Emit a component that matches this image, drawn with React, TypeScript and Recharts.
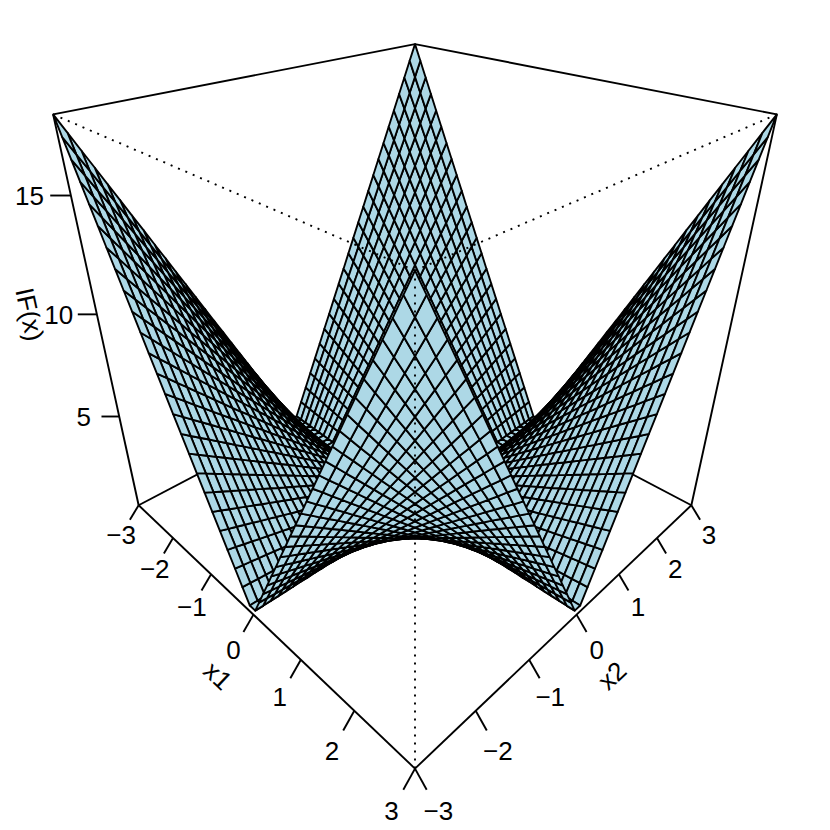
import React from 'react';
import { ScatterChart, Scatter, XAxis, YAxis } from 'recharts';

// Grid of the surface, from 0 outward; the negative half is its mirror image.
const gridHalf = [0.0612, 0.1837, 0.3061, 0.4286, 0.551, 0.6735, 0.7959, 0.9184, 1.0408, 1.1633, 1.2857, 1.4082, 1.5306, 1.6531, 1.7755, 1.898, 2.0204, 2.1429, 2.2653, 2.3878, 2.5102, 2.6327, 2.7551, 2.8776, 3];

// IF(x) read for one quadrant: a row per |x1|, a column per |x2|.
const surfaceQuadrant = [
  [.01,.02,.04,.05,.07,.08,.10,.11,.13,.14,.16,.17,.19,.20,.22,.23,.25,.26,.28,.29,.31,.32,.34,.35,.37],
  [.02,.07,.11,.16,.20,.25,.29,.34,.38,.43,.47,.52,.56,.61,.65,.70,.74,.79,.83,.88,.92,.97,1.01,1.06,1.10],
  [.04,.11,.19,.26,.34,.41,.49,.56,.64,.71,.79,.86,.94,1.01,1.09,1.16,1.24,1.31,1.39,1.46,1.54,1.61,1.69,1.76,1.84],
  [.05,.16,.26,.37,.47,.58,.68,.79,.89,1.00,1.10,1.21,1.31,1.42,1.52,1.63,1.73,1.84,1.94,2.05,2.15,2.26,2.36,2.47,2.57],
  [.07,.20,.34,.47,.61,.74,.88,1.01,1.15,1.28,1.42,1.55,1.69,1.82,1.96,2.09,2.23,2.36,2.50,2.63,2.77,2.90,3.04,3.17,3.31],
  [.08,.25,.41,.58,.74,.91,1.07,1.24,1.40,1.57,1.73,1.90,2.06,2.23,2.39,2.56,2.72,2.89,3.05,3.22,3.38,3.55,3.71,3.88,4.04],
  [.10,.29,.49,.68,.88,1.07,1.27,1.46,1.66,1.85,2.05,2.24,2.44,2.63,2.83,3.02,3.22,3.41,3.61,3.80,4.00,4.19,4.39,4.58,4.78],
  [.11,.34,.56,.79,1.01,1.24,1.46,1.69,1.91,2.14,2.36,2.59,2.81,3.04,3.26,3.49,3.71,3.94,4.16,4.39,4.61,4.84,5.06,5.29,5.51],
  [.13,.38,.64,.89,1.15,1.40,1.66,1.91,2.17,2.42,2.68,2.93,3.19,3.44,3.70,3.95,4.21,4.46,4.72,4.97,5.23,5.48,5.74,5.99,6.25],
  [.14,.43,.71,1.00,1.28,1.57,1.85,2.14,2.42,2.71,2.99,3.28,3.56,3.85,4.13,4.42,4.70,4.99,5.27,5.56,5.84,6.13,6.41,6.69,6.98],
  [.16,.47,.79,1.10,1.42,1.73,2.05,2.36,2.68,2.99,3.31,3.62,3.94,4.25,4.57,4.88,5.20,5.51,5.83,6.14,6.46,6.77,7.08,7.40,7.71],
  [.17,.52,.86,1.21,1.55,1.90,2.24,2.59,2.93,3.28,3.62,3.97,4.31,4.66,5.00,5.35,5.69,6.04,6.38,6.72,7.07,7.41,7.76,8.10,8.45],
  [.19,.56,.94,1.31,1.69,2.06,2.44,2.81,3.19,3.56,3.94,4.31,4.69,5.06,5.44,5.81,6.18,6.56,6.93,7.31,7.68,8.06,8.43,8.81,9.18],
  [.20,.61,1.01,1.42,1.82,2.23,2.63,3.04,3.44,3.85,4.25,4.66,5.06,5.47,5.87,6.27,6.68,7.08,7.49,7.89,8.30,8.70,9.11,9.51,9.92],
  [.22,.65,1.09,1.52,1.96,2.39,2.83,3.26,3.70,4.13,4.57,5.00,5.44,5.87,6.30,6.74,7.17,7.61,8.04,8.48,8.91,9.35,9.78,10.22,10.65],
  [.23,.70,1.16,1.63,2.09,2.56,3.02,3.49,3.95,4.42,4.88,5.35,5.81,6.27,6.74,7.20,7.67,8.13,8.60,9.06,9.53,9.99,10.46,10.92,11.39],
  [.25,.74,1.24,1.73,2.23,2.72,3.22,3.71,4.21,4.70,5.20,5.69,6.18,6.68,7.17,7.67,8.16,8.66,9.15,9.65,10.14,10.64,11.13,11.63,12.12],
  [.26,.79,1.31,1.84,2.36,2.89,3.41,3.94,4.46,4.99,5.51,6.04,6.56,7.08,7.61,8.13,8.66,9.18,9.71,10.23,10.76,11.28,11.81,12.33,12.86],
  [.28,.83,1.39,1.94,2.50,3.05,3.61,4.16,4.72,5.27,5.83,6.38,6.93,7.49,8.04,8.60,9.15,9.71,10.26,10.82,11.37,11.93,12.48,13.04,13.59],
  [.29,.88,1.46,2.05,2.63,3.22,3.80,4.39,4.97,5.56,6.14,6.72,7.31,7.89,8.48,9.06,9.65,10.23,10.82,11.40,11.99,12.57,13.16,13.74,14.33],
  [.31,.92,1.54,2.15,2.77,3.38,4.00,4.61,5.23,5.84,6.46,7.07,7.68,8.30,8.91,9.53,10.14,10.76,11.37,11.99,12.60,13.22,13.83,14.45,15.06],
  [.32,.97,1.61,2.26,2.90,3.55,4.19,4.84,5.48,6.13,6.77,7.41,8.06,8.70,9.35,9.99,10.64,11.28,11.93,12.57,13.22,13.86,14.51,15.15,15.80],
  [.34,1.01,1.69,2.36,3.04,3.71,4.39,5.06,5.74,6.41,7.08,7.76,8.43,9.11,9.78,10.46,11.13,11.81,12.48,13.16,13.83,14.51,15.18,15.86,16.53],
  [.35,1.06,1.76,2.47,3.17,3.88,4.58,5.29,5.99,6.69,7.40,8.10,8.81,9.51,10.22,10.92,11.63,12.33,13.04,13.74,14.45,15.15,15.86,16.56,17.27],
  [.37,1.10,1.84,2.57,3.31,4.04,4.78,5.51,6.25,6.98,7.71,8.45,9.18,9.92,10.65,11.39,12.12,12.86,13.59,14.33,15.06,15.80,16.53,17.27,18.00],
];

const axisTicks = [-3, -2, -1, 0, 1, 2, 3];
const zTicks = [5, 10, 15];
const axisTitles = ['x1', 'x2', 'IF(x)'];

const mirror = <T,>(half: T[]) => [...half.slice().reverse(), ...half];
const x2Grid = [...gridHalf.slice().reverse().map((v) => -v), ...gridHalf];
const x1Grid = x2Grid;
const zRows = mirror(surfaceQuadrant).map((r) => mirror(r));
const N = x1Grid.length;

const LIM = 3, ZMAX = 18;
const SCALE = 827, CX = 415, CY = 336, VIEW = 3.732;
const COS = Math.cos(Math.PI / 6), SIN = 0.5;
// Perspective view of the box (theta 45, phi 30), as a persp() plot makes it.
const project = (x1: number, x2: number, z: number) => {
  const u = x1 / LIM, v = x2 / LIM, Z = (2 * z) / ZMAX - 1;
  const X = (u + v) / Math.SQRT2, Y = (v - u) / Math.SQRT2;
  const w = VIEW - (-Y * COS + Z * SIN);
  return { x: X / w, y: (Y * SIN + Z * COS) / w, w };
};

const row = (p: any, seq: number, last: boolean) => ({ x: p.x, y: p.y, seq, last });

const facets: any[] = [];
for (let i = 0; i < N - 1; i++) for (let j = 0; j < N - 1; j++) {
  const c = [
    project(x1Grid[i], x2Grid[j], zRows[i][j]),
    project(x1Grid[i + 1], x2Grid[j], zRows[i + 1][j]),
    project(x1Grid[i + 1], x2Grid[j + 1], zRows[i + 1][j + 1]),
    project(x1Grid[i], x2Grid[j + 1], zRows[i][j + 1]),
  ];
  facets.push({ c, d: (c[0].w + c[1].w + c[2].w + c[3].w) / 4 });
}
facets.sort((a, b) => b.d - a.d);
const facetPoints = facets.flatMap((f) => f.c.map((p: any, k: number) => row(p, k, k === 3)));

const seg = (a: number[], b: number[]) => [row(project(a[0], a[1], a[2]), 0, false), row(project(b[0], b[1], b[2]), 1, true)];
const L = LIM, T = ZMAX;
const backEdges = [
  [[-L, -L, T], [-L, L, T]], [[-L, L, T], [L, L, T]], [[-L, -L, 0], [-L, -L, T]], [[L, L, 0], [L, L, T]], [[-L, L, 0], [-L, L, T]],
  [[-L, -L, 0], [-L, L, 0]], [[-L, L, 0], [L, L, 0]], [[-L, -L, 0], [L, -L, 0]], [[L, -L, 0], [L, L, 0]],
].flatMap(([a, b]) => seg(a, b));
const frontEdges = [[[L, -L, 0], [L, -L, T]], [[-L, -L, T], [L, -L, T]], [[L, -L, T], [L, L, T]]].flatMap(([a, b]) => seg(a, b));

const TICK_XY = 0.18, TICK_Z = 0.54;
const ticks = [
  ...axisTicks.flatMap((t) => seg([t, -L, 0], [t, -L - TICK_XY, -TICK_Z])),
  ...axisTicks.flatMap((t) => seg([L, t, 0], [L + TICK_XY, t, -TICK_Z])),
  ...zTicks.flatMap((t) => seg([-L, -L, t], [-L - TICK_XY, -L - TICK_XY, t])),
];
const lab = (t: number) => (t < 0 ? '\u2212' + -t : '' + t);
const labels = [
  ...axisTicks.map((t) => ({ ...project(t, -L - 2 * TICK_XY, -2 * TICK_Z), text: lab(t), rot: 0 })),
  ...axisTicks.map((t) => ({ ...project(L + 2 * TICK_XY, t, -2 * TICK_Z), text: lab(t), rot: 0 })),
  ...zTicks.map((t) => ({ ...project(-L - 2 * TICK_XY, -L - 2 * TICK_XY, t), text: lab(t), rot: 0 })),
  { ...project(0, -L - 3.5 * TICK_XY, -3.5 * TICK_Z), text: axisTitles[0], rot: 43.5 },
  { ...project(L + 3.5 * TICK_XY, 0, -3.5 * TICK_Z), text: axisTitles[1], rot: -43.5 },
  { ...project(-L - 3.5 * TICK_XY, -L - 3.5 * TICK_XY, 10), text: axisTitles[2], rot: 77.6 },
];

function polyShape(style: any, closed: boolean) {
  let buf: string[] = [];
  return (props: any) => {
    const { cx, cy, payload } = props;
    if (payload.seq === 0) buf = [];
    buf.push(cx + ',' + cy);
    if (!payload.last) return <g />;
    return closed ? <polygon points={buf.join(' ')} {...style} /> : <polyline points={buf.join(' ')} fill="none" {...style} />;
  };
}
const FONT = 26;
const textShape = (props: any) => {
  const { cx, cy, payload } = props;
  return (
    <text x={cx} y={cy + FONT * 0.36} textAnchor="middle" fontFamily="'Liberation Sans', Arial, sans-serif" fontSize={FONT} fill="#000"
      transform={payload.rot ? `rotate(${payload.rot} ${cx} ${cy})` : undefined}>{payload.text}</text>
  );
};

export default function App() {
  const line = { stroke: '#000', strokeWidth: 1.9 };
  return (
    <div style={{ position: 'absolute', left: 0, top: 0, width: 830, height: 830, background: '#fff' }}>
      <ScatterChart width={830} height={830} margin={{ top: 0, right: 0, bottom: 0, left: 0 }}>
        <XAxis type="number" dataKey="x" hide allowDataOverflow domain={[(0 - CX) / SCALE, (830 - CX) / SCALE]} />
        <YAxis type="number" dataKey="y" hide allowDataOverflow domain={[(CY - 830) / SCALE, CY / SCALE]} />
        <Scatter data={backEdges} isAnimationActive={false} shape={polyShape(line, false)} />
        <Scatter data={facetPoints} isAnimationActive={false} shape={polyShape({ fill: '#ADD8E6', stroke: '#000', strokeWidth: 1.9, strokeLinejoin: 'round' }, true)} />
        <Scatter data={frontEdges} isAnimationActive={false} shape={polyShape({ ...line, strokeDasharray: '2 6' }, false)} />
        <Scatter data={ticks} isAnimationActive={false} shape={polyShape(line, false)} />
        <Scatter data={labels} isAnimationActive={false} shape={textShape} />
      </ScatterChart>
    </div>
  );
}
